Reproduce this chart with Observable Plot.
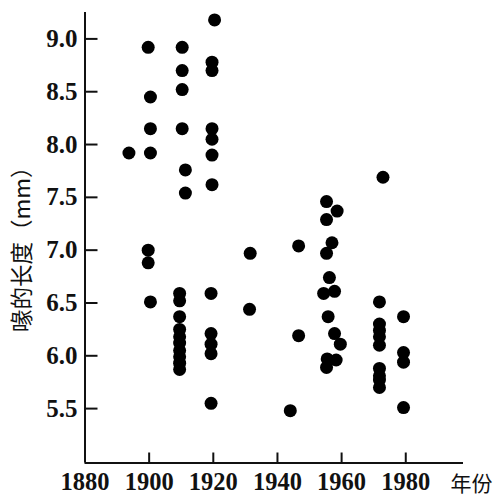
<!DOCTYPE html>
<html>
<head>
<meta charset="utf-8">
<script src="https://cdn.jsdelivr.net/npm/d3@7"></script>
<script src="https://cdn.jsdelivr.net/npm/@observablehq/plot@0.6"></script>
<style>
  html, body { margin: 0; padding: 0; background: #fff; }
</style>
</head>
<body>
<div id="chart"></div>
<script>
const years = [
  1893.7, 1899.7, 1900.4, 1900.4, 1900.4, 1899.7, 1899.7, 1900.4,
  1910.3, 1910.3, 1910.3, 1910.3, 1911.3, 1911.3,
  1909.5, 1909.5, 1909.5, 1909.5, 1909.5, 1909.5, 1909.5, 1909.5, 1909.5, 1909.5,
  1920.4, 1919.6, 1919.6, 1919.6, 1919.6, 1919.6, 1919.6,
  1919.3, 1919.3, 1919.3, 1919.3, 1919.3,
  1931.5, 1931.3,
  1944.0, 1946.6, 1946.6,
  1955.3, 1958.6, 1955.3, 1957.0, 1955.3, 1956.2, 1954.4, 1957.8, 1955.8, 1957.8, 1959.6, 1955.5, 1958.3, 1955.3,
  1972.9, 1971.8, 1971.8, 1971.8, 1971.8, 1971.8, 1971.8, 1971.8, 1971.8, 1971.8,
  1979.3, 1979.3, 1979.3, 1979.3
];
const beakLengths = [
  7.92, 8.92, 8.45, 8.15, 7.92, 7.00, 6.88, 6.51,
  8.92, 8.70, 8.52, 8.15, 7.76, 7.54,
  6.59, 6.52, 6.37, 6.25, 6.18, 6.12, 6.05, 5.99, 5.93, 5.87,
  9.18, 8.78, 8.70, 8.15, 8.05, 7.90, 7.62,
  6.59, 6.21, 6.11, 6.02, 5.55,
  6.97, 6.44,
  5.48, 7.04, 6.19,
  7.46, 7.37, 7.29, 7.07, 6.97, 6.74, 6.59, 6.61, 6.37, 6.21, 6.11, 5.97, 5.96, 5.89,
  7.69, 6.51, 6.30, 6.24, 6.18, 6.10, 5.88, 5.81, 5.77, 5.70,
  6.37, 6.03, 5.94, 5.51
];
const xTicks = [1880, 1900, 1920, 1940, 1960, 1980];
const yTicks = [5.5, 6.0, 6.5, 7.0, 7.5, 8.0, 8.5, 9.0];
const xDomain = [1880, 1998];
const yDomain = [4.985, 9.25];
const xTitle = "年份";
const yTitle = "喙的长度（mm）";

const points = years.map((x, i) => ({year: x, length: beakLengths[i]}));

const numFont = "'Liberation Serif', 'Times New Roman', serif";
const cjkFont = "'Noto Sans CJK SC', sans-serif";

const chart = Plot.plot({
  width: 501,
  height: 497,
  marginLeft: 84.5,
  marginTop: 12,
  marginBottom: 34.5,
  marginRight: 38,
  style: {background: "#fff", color: "#111"},
  x: {domain: xDomain},
  y: {domain: yDomain},
  marks: [
    // tick labels
    Plot.axisX({ticks: xTicks, tickSize: 0, tickPadding: 9.5, tickFormat: d => String(d),
      fontSize: 24.5, fontFamily: numFont, fontWeight: "bold", fill: "#111", label: null}),
    Plot.axisY({ticks: yTicks, tickSize: 0, tickPadding: 7.5, tickFormat: d3.format(".1f"),
      fontSize: 25, fontFamily: numFont, fontWeight: "bold", fill: "#111", label: null}),
    // inward tick marks
    Plot.ruleX(xTicks.filter(d => d !== xDomain[0]), {x: d => d, y1: yDomain[0], y2: yDomain[0], insetTop: -10, stroke: "#111", strokeWidth: 2}),
    Plot.ruleY(yTicks, {y: d => d, x1: xDomain[0], x2: xDomain[0], insetRight: -13, stroke: "#111", strokeWidth: 2}),
    // axis lines
    Plot.ruleX([xDomain[0]], {stroke: "#111", strokeWidth: 2}),
    Plot.ruleY([yDomain[0]], {stroke: "#111", strokeWidth: 2}),
    // points
    Plot.dot(points, {x: "year", y: "length", r: 6.5, fill: "#000", stroke: "none"}),
    // axis titles
    Plot.text([xTitle], {frameAnchor: "bottom-right", text: d => d, textAnchor: "start", lineAnchor: "middle",
      dx: -13, dy: 21, fontSize: 21, fontFamily: cjkFont, fill: "#111"}),
    Plot.text([yTitle], {frameAnchor: "left", text: d => d, rotate: -90, textAnchor: "middle", lineAnchor: "middle",
      dx: -62.5, dy: 6, fontSize: 22.5, fontFamily: cjkFont, fill: "#111"})
  ]
});
document.getElementById("chart").appendChild(chart);
</script>
</body>
</html>
